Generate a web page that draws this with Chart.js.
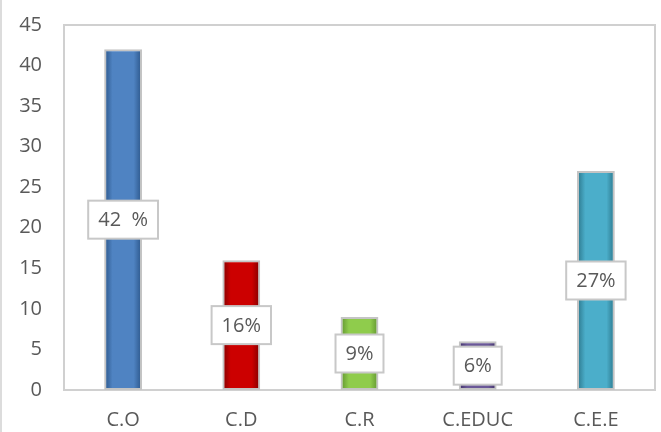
<!DOCTYPE html>
<html>
<head>
<meta charset="utf-8">
<script src="https://cdn.jsdelivr.net/npm/chart.js@4/dist/chart.umd.min.js"></script>
<style>
  html, body { margin: 0; padding: 0; background: #fff; }
  #wrap { width: 661px; height: 432px; }
</style>
</head>
<body>
<div id="wrap"><canvas id="barGraph"></canvas></div>
<script>
const categories = ['C.O', 'C.D', 'C.R', 'C.EDUC', 'C.E.E'];
const values = [42, 16, 9, 6, 27];
const pctLabels = ['42  %', '16%', '9%', '6%', '27%'];
const yTicks = [0, 5, 10, 15, 20, 25, 30, 35, 40, 45];

// light centre / dark edge for each bar
const barLight = ['#4F83C2', '#CC0000', '#8FCC4C', '#6A5898', '#4BAECA'];
const barDark = ['#2A5487', '#7E0000', '#5F922F', '#3F3066', '#2A7489'];

const ctxBar = document.getElementById('barGraph').getContext('2d');
const fontName = "'Open Sans', 'Liberation Sans', sans-serif";

function barFill(context) {
  const chart = context.chart;
  const i = context.dataIndex;
  const xScale = chart.scales.x;
  if (!xScale || xScale.width === undefined || !chart.chartArea) return barLight[i];
  const cx = xScale.getPixelForValue(i);
  const half = xScale.width / categories.length * 0.32 / 2;
  const g = chart.ctx.createLinearGradient(cx - half, 0, cx + half, 0);
  g.addColorStop(0, barDark[i]);
  g.addColorStop(0.22, barLight[i]);
  g.addColorStop(0.78, barLight[i]);
  g.addColorStop(1, barDark[i]);
  return g;
}

// plot frame + left edge line
const framePlugin = {
  id: 'frame',
  beforeDatasetsDraw(chart) {
    const { ctx, chartArea } = chart;
    ctx.save();
    ctx.strokeStyle = '#D0D0D0';
    ctx.lineWidth = 2;
    ctx.strokeRect(chartArea.left, chartArea.top, chartArea.right - chartArea.left, chartArea.bottom - chartArea.top);
    ctx.lineWidth = 1.5;
    ctx.beginPath();
    ctx.moveTo(1, 0);
    ctx.lineTo(1, chart.height);
    ctx.stroke();
    ctx.restore();
  }
};

// boxed labels centred on each bar
const boxLabelPlugin = {
  id: 'boxLabels',
  afterDatasetsDraw(chart) {
    const { ctx } = chart;
    const meta = chart.getDatasetMeta(0);
    ctx.save();
    ctx.font = '20px ' + fontName;
    ctx.textAlign = 'center';
    ctx.textBaseline = 'middle';
    meta.data.forEach((bar, i) => {
      const cy = (bar.y + bar.base) / 2;
      const w = ctx.measureText(pctLabels[i]).width + 20;
      const h = 38;
      ctx.fillStyle = '#FFFFFF';
      ctx.fillRect(bar.x - w / 2, cy - h / 2, w, h);
      ctx.strokeStyle = '#C8C8C8';
      ctx.lineWidth = 2;
      ctx.strokeRect(bar.x - w / 2, cy - h / 2, w, h);
      ctx.fillStyle = '#595959';
      ctx.fillText(pctLabels[i], bar.x, cy + 1);
    });
    ctx.restore();
  }
};

new Chart(ctxBar, {
  type: 'bar',
  data: {
    labels: categories,
    datasets: [{
      data: values,
      backgroundColor: barFill,
      borderColor: '#C4C4C4',
      borderWidth: 2,
      borderSkipped: false,
      categoryPercentage: 1,
      barPercentage: 0.32
    }]
  },
  options: {
    responsive: true,
    maintainAspectRatio: false,
    animation: false,
    layout: { padding: { top: 25, right: 6, left: 0, bottom: 0 } },
    plugins: {
      legend: { display: false },
      tooltip: { enabled: false }
    },
    scales: {
      y: {
        min: 0,
        max: 45,
        afterBuildTicks: scale => { scale.ticks = yTicks.map(v => ({ value: v })); },
        afterFit: scale => {
          scale.width = 64;
          scale.paddingTop = 0;
          scale.paddingBottom = 0;
        },
        grid: { display: false, drawTicks: false },
        border: { display: false },
        ticks: {
          padding: 22,
          color: '#595959',
          font: { size: 20, family: fontName }
        }
      },
      x: {
        afterFit: scale => {
          scale.height = 42;
          scale.paddingLeft = 0;
          scale.paddingRight = 0;
        },
        grid: { display: false, drawTicks: false },
        border: { display: false },
        ticks: {
          padding: 18,
          color: '#595959',
          font: { size: 20, family: fontName }
        }
      }
    }
  },
  plugins: [framePlugin, boxLabelPlugin]
});
</script>
</body>
</html>
